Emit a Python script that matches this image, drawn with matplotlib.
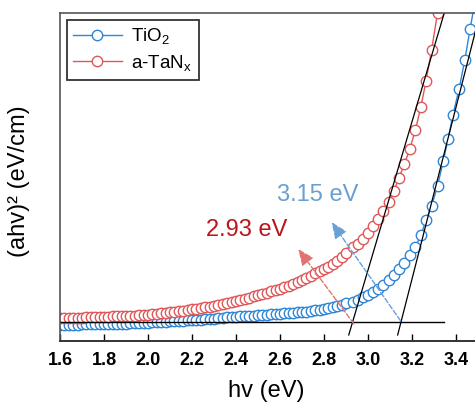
import matplotlib
matplotlib.use("Agg")
import matplotlib.pyplot as plt

plt.rcParams['font.family'] = ['Liberation Sans', 'DejaVu Sans']
plt.rcParams['mathtext.fontset'] = 'custom'
plt.rcParams['mathtext.rm'] = 'Liberation Sans'

# photon energy grid (eV) shared by both films
hv = [1.60, 1.62, 1.64, 1.66, 1.68, 1.70, 1.72, 1.74, 1.76, 1.78,
      1.80, 1.82, 1.84, 1.86, 1.88, 1.90, 1.92, 1.94, 1.96, 1.98,
      2.00, 2.02, 2.04, 2.06, 2.08, 2.10, 2.12, 2.14, 2.16, 2.18,
      2.20, 2.22, 2.24, 2.26, 2.28, 2.30, 2.32, 2.34, 2.36, 2.38,
      2.40, 2.42, 2.44, 2.46, 2.48, 2.50, 2.52, 2.54, 2.56, 2.58,
      2.60, 2.62, 2.64, 2.66, 2.68, 2.70, 2.72, 2.74, 2.76, 2.78,
      2.80, 2.82, 2.84, 2.86, 2.88, 2.90,
      2.930, 2.955, 2.977, 3.000, 3.023, 3.045, 3.068, 3.095, 3.118, 3.140,
      3.165, 3.190, 3.215, 3.240, 3.264, 3.289, 3.316, 3.342, 3.364, 3.386,
      3.414, 3.440, 3.464, 3.487]

# (ahv)^2, arbitrary units
tio2 = [-1.0, -1.0, -0.9, -0.9, -0.9, -0.8, -0.8, -0.8, -0.7, -0.7,
        -0.6, -0.6, -0.6, -0.5, -0.5, -0.5, -0.4, -0.4, -0.3, -0.3,
        -0.2, -0.1, 0.0, 0.0, 0.1, 0.2, 0.3, 0.3, 0.4, 0.5,
        0.6, 0.7, 0.8, 0.9, 1.0, 1.1, 1.2, 1.3, 1.5, 1.6,
        1.7, 1.8, 1.9, 2.0, 2.1, 2.2, 2.3, 2.4, 2.5, 2.6,
        2.7, 2.8, 2.9, 3.0, 3.1, 3.3, 3.4, 3.6, 3.8, 4.0,
        4.2, 4.5, 4.8, 5.2, 5.6, 6.0,
        6.6, 7.2, 8.0, 8.8, 9.7, 10.8, 12.0, 13.7, 15.3, 17.3,
        19.2, 21.8, 24.3, 28.0, 33.0, 37.5, 44.0, 52.0, 59.2, 67.0,
        75.4, 84.8, 94.8, 104.0]

tanx = [1.3, 1.3, 1.3, 1.4, 1.4, 1.4, 1.5, 1.5, 1.5, 1.6,
        1.6, 1.7, 1.8, 1.8, 1.9, 2.0, 2.1, 2.1, 2.2, 2.3,
        2.4, 2.5, 2.7, 2.8, 3.0, 3.1, 3.3, 3.5, 3.7, 3.9,
        4.1, 4.3, 4.5, 4.8, 5.0, 5.3, 5.6, 5.9, 6.2, 6.5,
        6.8, 7.2, 7.5, 7.9, 8.3, 8.7, 9.1, 9.5, 9.9, 10.3,
        10.8, 11.3, 11.8, 12.4, 13.0, 13.6, 14.3, 15.0, 15.7, 16.4,
        17.1, 17.9, 18.8, 19.8, 21.0, 22.4,
        24.3, 25.4, 26.9, 28.8, 31.1, 33.3, 35.9, 38.8, 42.5, 46.5,
        51.0, 56.0, 62.0, 69.5, 78.0, 88.0, 100.0, 113.0, 125.0, 137.0,
        150.0, 163.0, 176.0, 190.0]

# Tauc fits: band gap (x-intercept) and slope per eV
gap_tio2, slope_tio2 = 3.15, 278
gap_tanx, slope_tanx = 2.93, 240
fit_y = [-4.2, 110]

c_blue = '#2f86d6'
c_red = '#e0575a'

fig = plt.figure(figsize=(4.75, 4.06), dpi=100)
ax = fig.add_axes([0.1263, 0.1576, 0.8737, 0.8079])

ax.plot(hv, tio2, '-o', color=c_blue, mec=c_blue, mfc='white', ms=7.5, mew=1.0,
        lw=1.0, label='TiO$_2$')
ax.plot(hv, tanx, '-o', color=c_red, mec=c_red, mfc='white', ms=7.5, mew=1.0,
        lw=1.0, label='a-TaN$_\\mathrm{x}$')

# baseline and linear extrapolations
ax.plot([1.6, 3.345], [0, 0], color='black', lw=1.0)
for g, s in [(gap_tio2, slope_tio2), (gap_tanx, slope_tanx)]:
    ax.plot([g + y / s for y in fit_y], fit_y, color='black', lw=0.9)

# dashed arrows from the intercepts to the labels
ax.annotate('', xy=(2.683, 23.6), xytext=(2.936, -0.6),
            arrowprops=dict(arrowstyle='-|>,head_length=0.7,head_width=0.3',
                            linestyle='--', color='#e07474', lw=1.0,
                            shrinkA=0, shrinkB=0, mutation_scale=14))
ax.annotate('', xy=(2.835, 32.3), xytext=(3.148, 0.4),
            arrowprops=dict(arrowstyle='-|>,head_length=0.7,head_width=0.3',
                            linestyle='--', color='#6a9fd8', lw=1.0,
                            shrinkA=0, shrinkB=0, mutation_scale=14))
ax.text(2.264, 28.2, '%.2f eV' % gap_tanx, color='#b8161c', fontsize=17,
        ha='left', va='baseline')
ax.text(2.586, 39.5, '%.2f eV' % gap_tio2, color='#6a9fd2', fontsize=17,
        ha='left', va='baseline')

ax.set_xlim(1.6, 3.4864)
ax.set_ylim(-6.15, 100)
ax.set_xticks([1.6, 1.8, 2.0, 2.2, 2.4, 2.6, 2.8, 3.0, 3.2, 3.4])
ax.set_yticks([])
ax.tick_params(axis='x', direction='in', length=5, width=1.0, labelsize=13, pad=7)
for lab in ax.get_xticklabels():
    lab.set_fontweight('bold')

ax.spines['right'].set_visible(False)
ax.spines['bottom'].set_linewidth(1.4)
ax.spines['bottom'].set_color('#333333')
for side in ['left', 'top']:
    ax.spines[side].set_linewidth(1.2)
    ax.spines[side].set_color('#555555')

ax.set_xlabel('hv (eV)', fontsize=17)
ax.xaxis.set_label_coords(0.496, -0.115)
ax.set_ylabel('(ahv)² (eV/cm)', fontsize=17)
ax.yaxis.set_label_coords(-0.073, 0.49)

leg = ax.legend(loc='upper left', fontsize=13.5, frameon=True, fancybox=False,
                edgecolor='black', handlelength=2.6, borderpad=0.35,
                labelspacing=0.35, handletextpad=0.5, borderaxespad=0.35)
leg.get_frame().set_linewidth(1.3)

fig.savefig('out.png', dpi=100)
